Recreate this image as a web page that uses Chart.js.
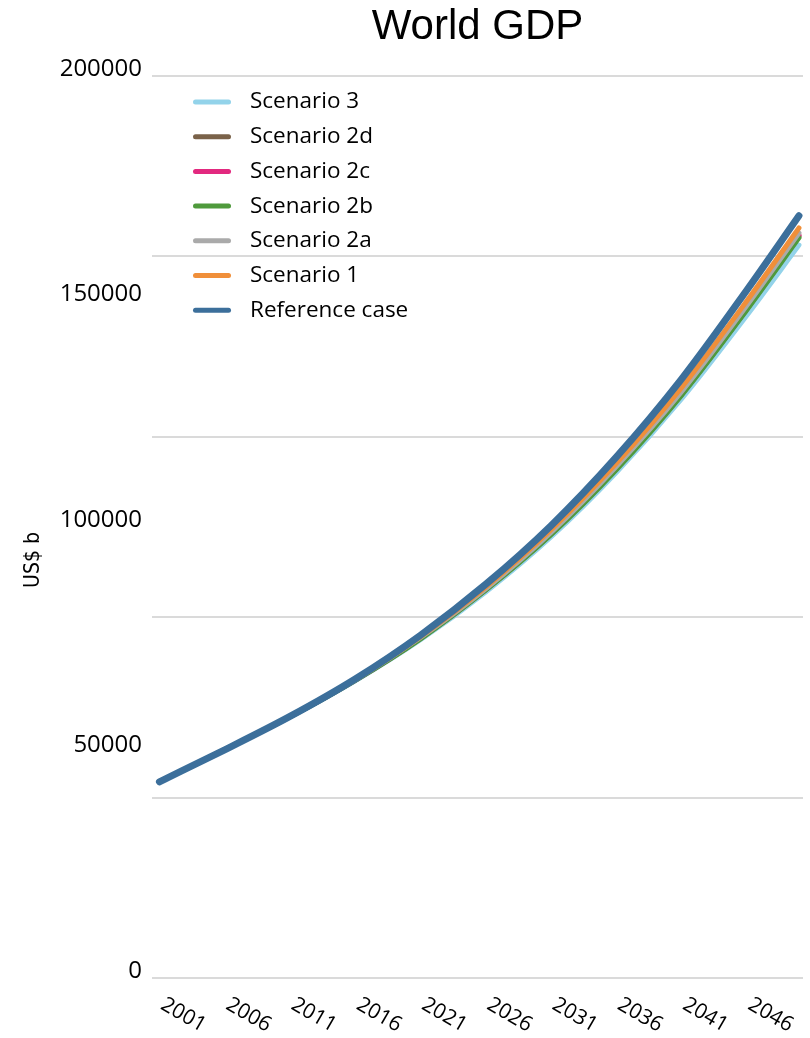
<!DOCTYPE html>
<html>
<head>
<meta charset="utf-8">
<title>World GDP</title>
<script src="https://cdn.jsdelivr.net/npm/chart.js@4.4.1/dist/chart.umd.min.js"></script>
<style>
  html, body { margin: 0; padding: 0; background: #ffffff; }
  #wrap { width: 810px; height: 1038px; position: relative; }
</style>
</head>
<body>
<div id="wrap"><canvas id="gdp"></canvas></div>
<script>
// Years sampled along each scenario path (US$ billions)
const years = [2001, 2006, 2011, 2016, 2021, 2026, 2031, 2036, 2041, 2046, 2050];
const xTickLabels = [2001, 2006, 2011, 2016, 2021, 2026, 2031, 2036, 2041, 2046];
const yTickLabels = [0, 50000, 100000, 150000, 200000];

const scenario3   = [43500, 50600, 57900, 65900, 75000, 85600, 97800, 112100, 128400, 146900, 162500];
const scenario2d  = [43500, 50600, 57900, 66000, 75250, 86050, 98400, 112850, 129400, 148300, 164400];
const scenario2c  = [43500, 50600, 57950, 66050, 75350, 86150, 98550, 113050, 129600, 148600, 164700];
const scenario2b  = [43500, 50600, 57900, 66000, 75200, 86000, 98300, 112700, 129200, 148100, 164100];
const scenario2a  = [43500, 50600, 58000, 66100, 75500, 86300, 98800, 113400, 130000, 149100, 165200];
const scenario1   = [43500, 50600, 58000, 66200, 75700, 86700, 99400, 114100, 130900, 150100, 166300];
const referenceCase = [43500, 50600, 58000, 66300, 76000, 87300, 100300, 115500, 132800, 152500, 169000];

const seriesNames  = ['Scenario 3', 'Scenario 2d', 'Scenario 2c', 'Scenario 2b', 'Scenario 2a', 'Scenario 1', 'Reference case'];
const seriesValues = [scenario3, scenario2d, scenario2c, scenario2b, scenario2a, scenario1, referenceCase];
const seriesColors = ['#93d3ea', '#7a6249', '#e2297f', '#4f9a3c', '#aaaaaa', '#f08f3a', '#3c6f9b'];
const seriesWidths = [5, 5, 5, 5, 5, 5, 7];

const sansFont = '"Open Sans", "Noto Sans", sans-serif';

const datasets = seriesNames.map((name, i) => ({
  label: name,
  data: years.map((yr, j) => ({ x: yr, y: seriesValues[i][j] })),
  borderColor: seriesColors[i],
  backgroundColor: seriesColors[i],
  borderWidth: seriesWidths[i],
  borderCapStyle: 'round',
  borderJoinStyle: 'round',
  pointRadius: 0,
  cubicInterpolationMode: 'monotone',
  fill: false,
  // reference case on top, Scenario 3 underneath everything
  order: seriesNames.length - 1 - i
}));

// Legend column inside the plot, rotated year labels and the vertical axis caption
const decorations = {
  id: 'decorations',
  afterDraw(chart) {
    const ctx = chart.ctx;
    const x = chart.scales.x;
    const area = chart.chartArea;
    ctx.save();

    // rotated year labels under the plot
    ctx.fillStyle = '#000000';
    ctx.font = '21px ' + sansFont;
    ctx.textAlign = 'left';
    ctx.textBaseline = 'middle';
    xTickLabels.forEach(yr => {
      const px = x.getPixelForValue(yr);
      ctx.save();
      ctx.translate(px + 3, area.bottom + 25);
      ctx.rotate(30 * Math.PI / 180);
      ctx.fillText(String(yr), 0, 0);
      ctx.restore();
    });

    // axis caption
    ctx.save();
    ctx.translate(34, 560);
    ctx.rotate(-Math.PI / 2);
    ctx.textAlign = 'center';
    ctx.textBaseline = 'middle';
    ctx.font = '21px "DejaVu Sans", sans-serif';
    if ('fontStretch' in ctx) ctx.fontStretch = 'condensed';
    ctx.fillText('US$ b', 0, 0);
    ctx.restore();

    // legend
    const lx = area.left + 41, lw = 38, rowTop = 102, rowStep = 34.7;
    ctx.font = '22.5px ' + sansFont;
    ctx.textAlign = 'left';
    ctx.textBaseline = 'middle';
    chart.data.datasets.forEach((ds, i) => {
      const cy = rowTop + i * rowStep;
      ctx.strokeStyle = ds.borderColor;
      ctx.lineWidth = 5;
      ctx.lineCap = 'round';
      ctx.beginPath();
      ctx.moveTo(lx + 2.5, cy);
      ctx.lineTo(lx + lw - 2.5, cy);
      ctx.stroke();
      ctx.fillStyle = '#000000';
      ctx.fillText(ds.label, lx + 57, cy);
    });
    ctx.restore();
  }
};

new Chart(document.getElementById('gdp'), {
  type: 'line',
  data: { datasets },
  plugins: [decorations],
  options: {
    responsive: true,
    maintainAspectRatio: false,
    animation: false,
    layout: { padding: { left: 0, right: 7, top: 0, bottom: 0 } },
    plugins: {
      legend: { display: false },
      tooltip: { enabled: false },
      title: {
        display: true,
        text: 'World GDP',
        fullSize: false,
        color: '#000000',
        font: { family: '"Liberation Sans", Arial, sans-serif', size: 42, weight: 'normal', lineHeight: 1.2 },
        padding: { top: 2, bottom: 23.6 }
      }
    },
    scales: {
      x: {
        type: 'linear',
        min: 2000.43,
        max: 2050.31,
        grid: { display: false },
        border: { display: false },
        ticks: { display: false },
        afterFit(scale) { scale.height = 60; }
      },
      y: {
        min: 0,
        max: 200000,
        border: { display: false },
        grid: {
          drawTicks: false,
          lineWidth: 2,
          color: c => (c.tick && c.tick.value % 40000 === 0) ? '#dadada' : 'rgba(0,0,0,0)'
        },
        ticks: {
          stepSize: 10000,
          autoSkip: false,
          padding: 10,
          labelOffset: -7,
          color: '#000000',
          font: { family: sansFont, size: 24 },
          callback: v => yTickLabels.includes(v) ? String(v) : ''
        },
        afterFit(scale) { scale.width = 152; }
      }
    }
  }
});
</script>
</body>
</html>
